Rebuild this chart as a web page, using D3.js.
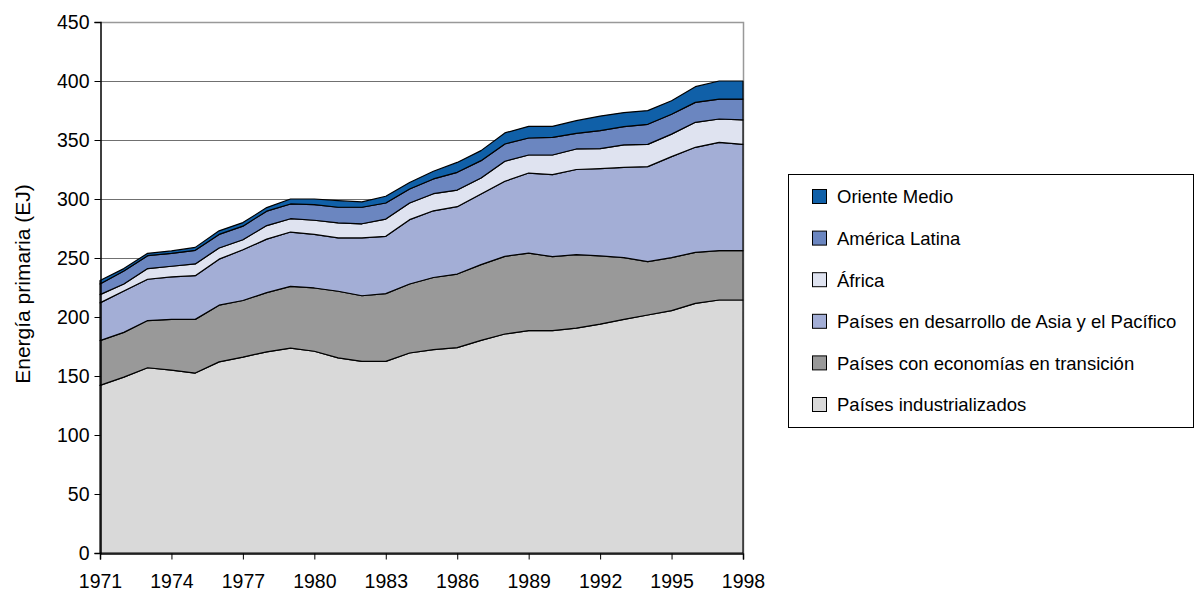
<!DOCTYPE html>
<html>
<head>
<meta charset="utf-8">
<script src="https://cdn.jsdelivr.net/npm/d3@7"></script>
<style>
	body { margin: 0; background: #fff; }
	text { font-family: "Liberation Sans", Arial, sans-serif; fill: #000; }
</style>
</head>
<body>
<div id="svg_goes_here"></div>
<script>
// years on the x axis
var years = d3.range(1971, 1999);

// series values, EJ per year
var industrializados = [142, 149, 157, 155, 152.5, 162, 166, 170.5, 173.7, 171, 165.3, 162.4, 162.4, 169.5,
	172.3, 174, 180.2, 185.6, 188.4, 188.5, 190.5, 194, 198, 201.7, 205.4, 211.6, 214.4, 214.4];
var transicion = [38, 38, 40, 43, 45.5, 48, 48, 50.1, 52.3, 53.6, 56.5, 55.6, 57.4, 58.5,
	61.2, 62.4, 64.2, 65.8, 65.8, 62.6, 62.3, 57.8, 52.3, 45.2, 44.9, 43.2, 41.8, 41.8];
var asia = [32, 35, 35, 36, 37, 39, 43, 45.4, 46, 45.4, 45.2, 49, 48.6, 54.5,
	56.5, 57.1, 59.8, 63.6, 67.8, 69.5, 72.2, 73.9, 76.5, 80.5, 85.6, 89, 91.8, 90.1];
var africa = [7, 6, 9, 9, 10, 9.5, 8.5, 11.5, 11.3, 12, 12.7, 12, 14.6, 14.1,
	14.5, 14.1, 13.6, 17, 15.3, 16.7, 17.4, 17, 19, 18.9, 19.1, 21.2, 19.8, 20.7];
var america_latina = [9, 11, 11, 11, 11.5, 11.5, 11.5, 12.2, 12.5, 13.2, 13.3, 14, 13.6, 11.9,
	12.5, 15, 14.7, 14.6, 14.4, 15, 13.2, 15.3, 15.5, 17, 16.8, 16.9, 16.9, 17.7];
var oriente_medio = [3, 2, 2, 2, 2.5, 3, 3, 3, 4.2, 4.8, 5.6, 4.5, 5.7, 5.5,
	6.5, 8.4, 8.5, 9.4, 9.9, 9.3, 10.8, 12.3, 11.9, 11.6, 11.5, 13.3, 15.3, 15.3];

// bottom to top
var series_names = ['Países industrializados', 'Países con economías en transición',
	'Países en desarrollo de Asia y el Pacífico', 'África', 'América Latina', 'Oriente Medio'];
var series_values = [industrializados, transicion, asia, africa, america_latina, oriente_medio];
var series_colours = ['#d9d9d9', '#999999', '#a3aed6', '#dfe3f0', '#6b86c0', '#1060a8'];

var y_ticks = d3.range(0, 451, 50);
var x_ticks = d3.range(1971, 1999, 3);

var settings = {
	width: 1195,
	height: 595,
	left: 100,
	right: 743,
	top: 22,
	bottom: 553
}

//one row per year, one column per series
var table = years.map(function(yr, i){
	var row = { year: yr };
	series_names.forEach(function(name, k){ row[name] = series_values[k][i]; });
	return row;
});

var svg = d3.select("#svg_goes_here")
	.append("svg")
	.attr('width', settings.width)
	.attr('height', settings.height);

var x = d3.scaleLinear().domain([1971, 1998]).range([settings.left, settings.right]);
var y = d3.scaleLinear().domain([0, 450]).range([settings.bottom, settings.top]);

//gridlines
svg.append("g")
	.selectAll("line")
	.data(y_ticks.filter(function(d){ return d > 0 && d < 450; }))
	.enter().append("line")
	.attr("x1", settings.left).attr("x2", settings.right)
	.attr("y1", function(d){ return y(d) + 0.5; })
	.attr("y2", function(d){ return y(d) + 0.5; })
	.style("stroke", "#707070")
	.style("stroke-width", 1);

//plot border (top and right)
svg.append("path")
	.attr("d", "M" + settings.left + "," + (settings.top + 0.5) + "H" + (settings.right + 0.5) + "V" + settings.bottom)
	.style("fill", "none")
	.style("stroke", "#999")
	.style("stroke-width", 1.5);

var stack = d3.stack().keys(series_names);
var layers = stack(table);

var area = d3.area()
	.x(function(d){ return x(d.data.year); })
	.y0(function(d){ return y(d[0]); })
	.y1(function(d){ return y(d[1]); });

svg.append("g")
	.selectAll("path")
	.data(layers)
	.enter().append("path")
	.attr("d", area)
	.style("fill", function(d, k){ return series_colours[k]; })
	.style("stroke", "#000")
	.style("stroke-width", 1.2)
	.style("stroke-linejoin", "round");

//axes
var y_axis = d3.axisLeft(y).tickValues(y_ticks).tickSize(6).tickPadding(5);
var gy = svg.append("g")
	.attr("transform", "translate(" + (settings.left + 0.5) + ",0)")
	.call(y_axis);
gy.selectAll("text").style("font-size", "19.5px").attr("dy", "0.35em");

var x_axis = d3.axisBottom(x).tickValues(x_ticks).tickFormat(d3.format("d")).tickSize(6).tickPadding(15);
var gx = svg.append("g")
	.attr("transform", "translate(0," + (settings.bottom + 0.5) + ")")
	.call(x_axis);
gx.selectAll("text").style("font-size", "19.5px");

svg.selectAll(".domain").style("stroke", "#000").style("stroke-width", 1.5);
svg.selectAll(".tick line").style("stroke", "#000");

//y axis title
svg.append("text")
	.attr("transform", "translate(29.5,284) rotate(-90)")
	.attr("text-anchor", "middle")
	.style("font-size", "21px")
	.text("Energía primaria (EJ)");

//legend, top to bottom
var legend = svg.append("g");
legend.append("rect")
	.attr("x", 788.5).attr("y", 174.5)
	.attr("width", 405).attr("height", 253)
	.style("fill", "#fff")
	.style("stroke", "#000");

var legend_items = series_names.map(function(name, k){ return { name: name, colour: series_colours[k] }; }).reverse();

var item = legend.selectAll(".item")
	.data(legend_items)
	.enter().append("g")
	.attr("transform", function(d, i){ return "translate(812," + (197 + i * 41.6) + ")"; });

item.append("rect")
	.attr("x", 0.5).attr("y", -7.5)
	.attr("width", 14).attr("height", 14)
	.style("fill", function(d){ return d.colour; })
	.style("stroke", "#000");

item.append("text")
	.attr("x", 25)
	.attr("dy", "0.35em")
	.style("font-size", "18.5px")
	.text(function(d){ return d.name; });
</script>
</body>
</html>
